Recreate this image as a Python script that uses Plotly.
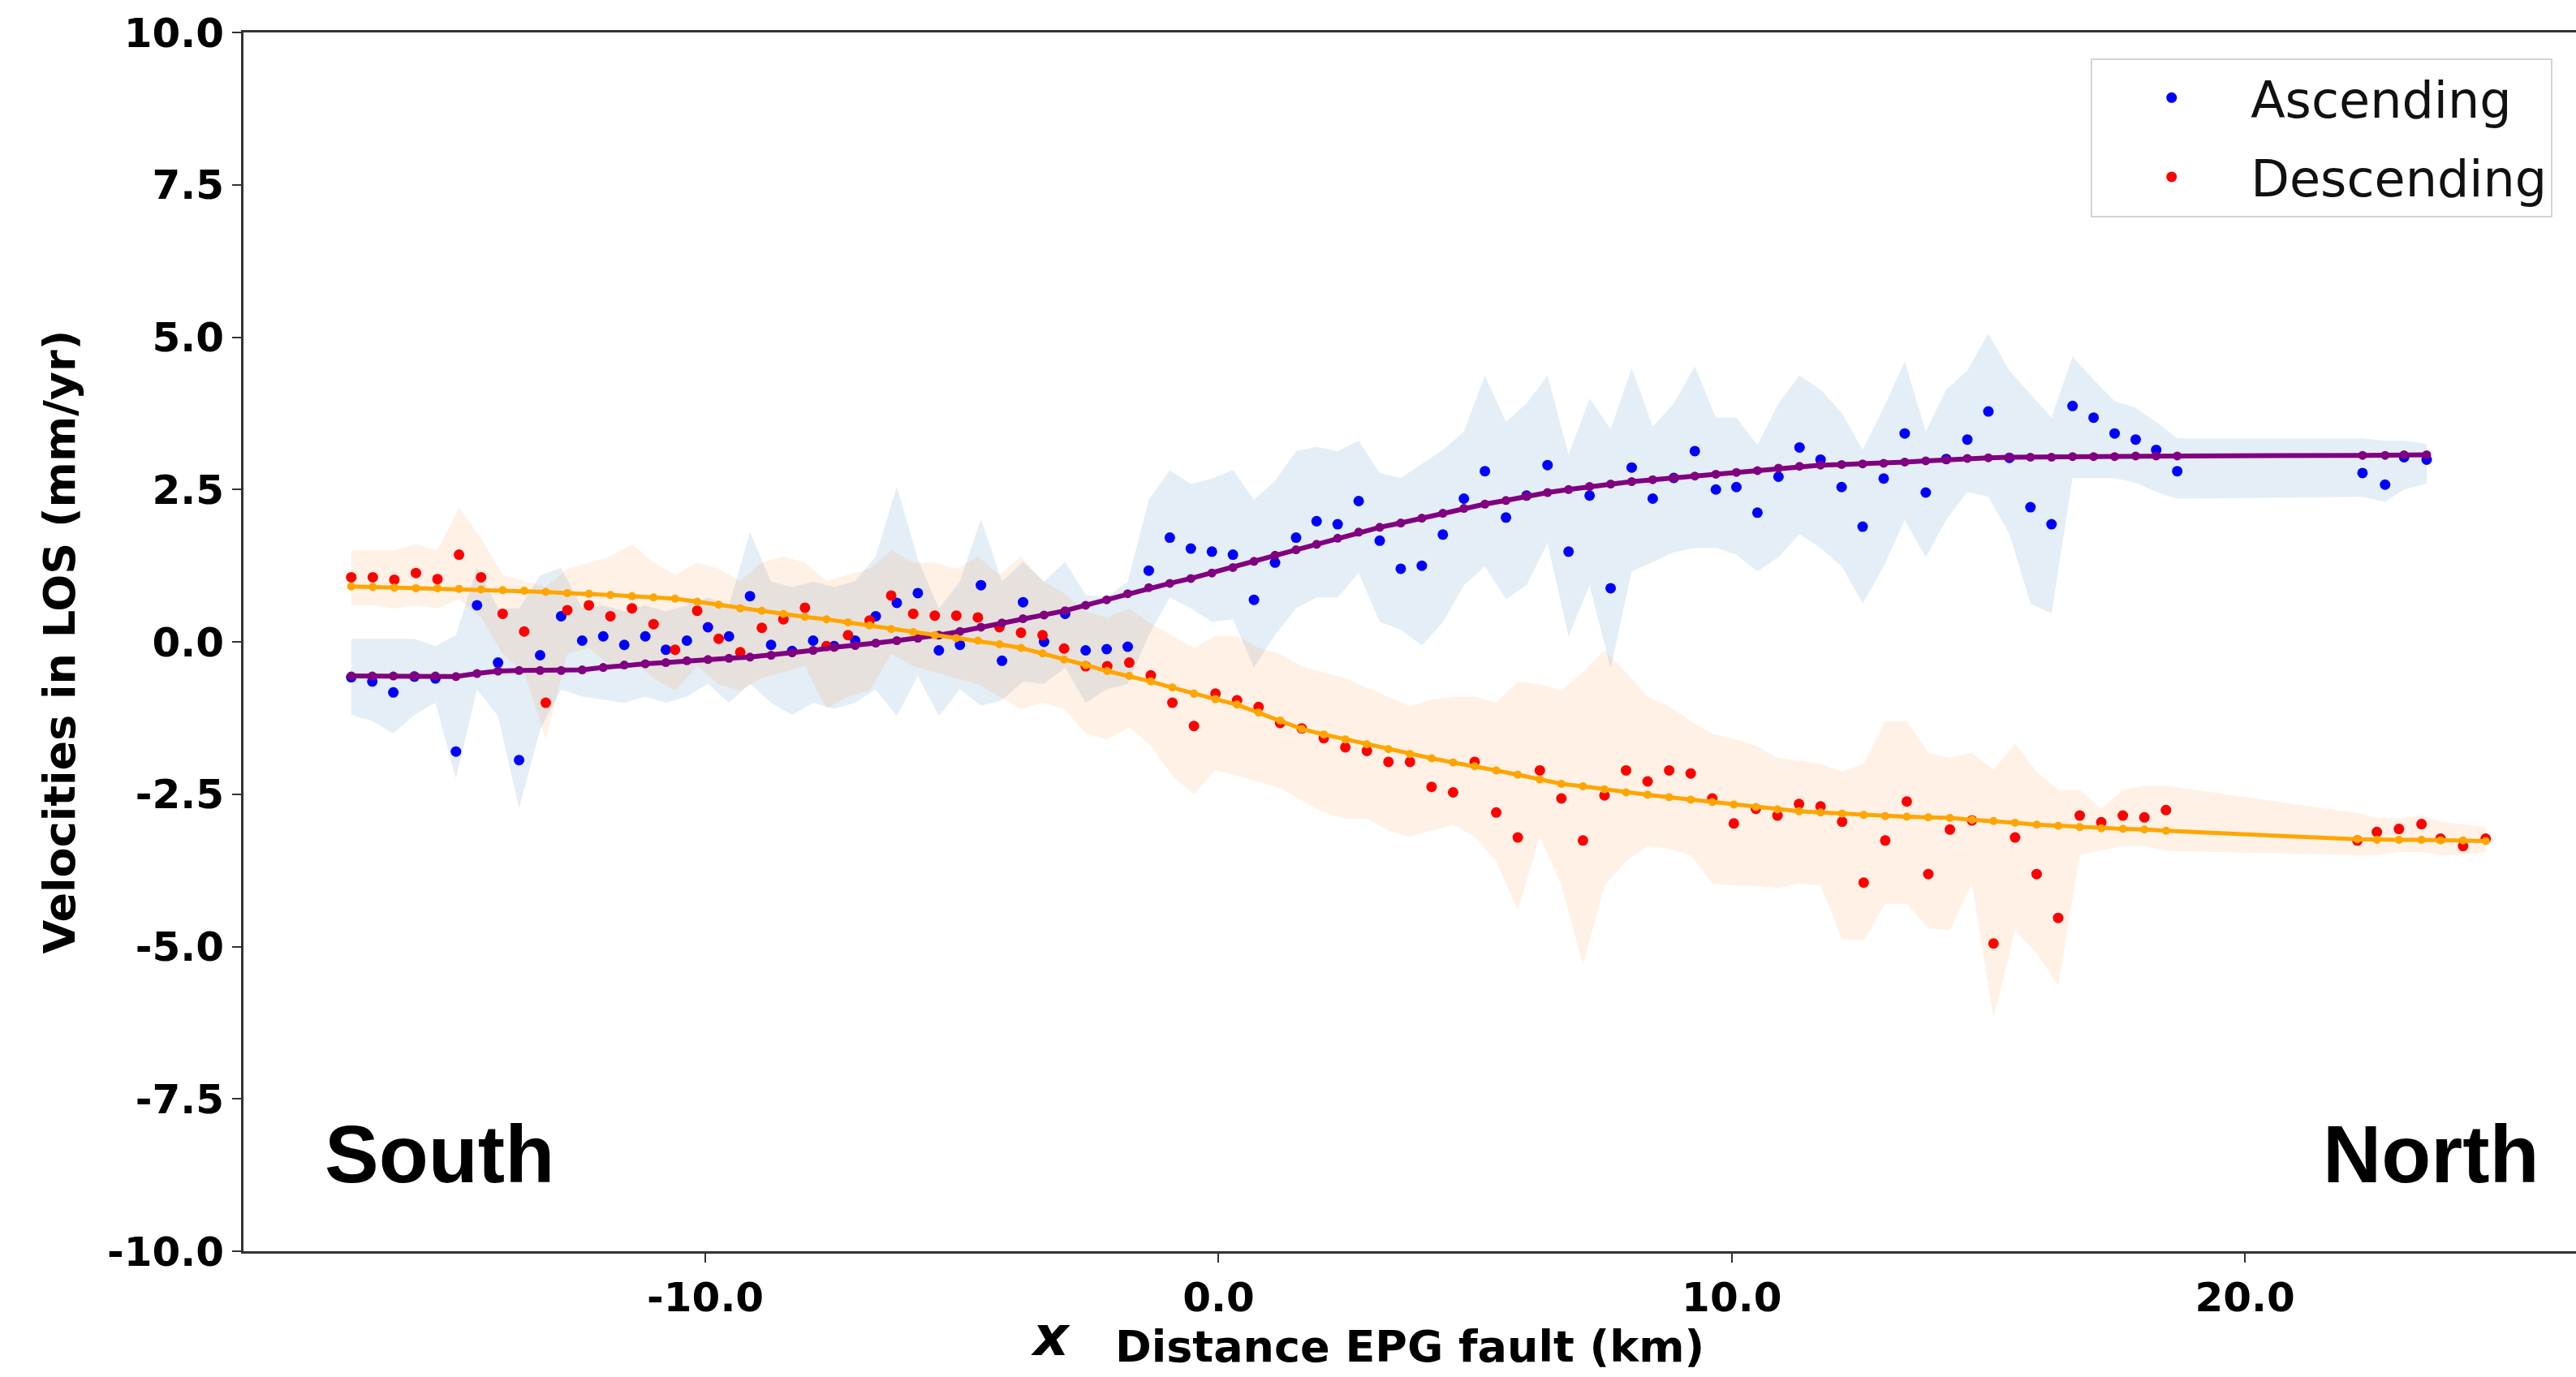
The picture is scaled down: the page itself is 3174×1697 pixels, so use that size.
import plotly.graph_objects as go

# ---------------- data ----------------
asc_x = [-16.90, -16.49, -16.08, -15.67, -15.26, -14.86, -14.45, -14.04, -13.63, -13.22,
         -12.81, -12.40, -11.99, -11.58, -11.17, -10.77, -10.36, -9.95, -9.54, -9.13,
         -8.72, -8.31, -7.90, -7.49, -7.08, -6.68, -6.27, -5.86, -5.45, -5.04,
         -4.63, -4.22, -3.81, -3.40, -2.99, -2.59, -2.18, -1.77, -1.36, -0.95,
         -0.54, -0.13, 0.28, 0.69, 1.10, 1.51, 1.91, 2.32, 2.73, 3.14,
         3.55, 3.96, 4.37, 4.78, 5.19, 5.60, 6.00, 6.41, 6.82, 7.23,
         7.64, 8.05, 8.46, 8.87, 9.28, 9.69, 10.09, 10.50, 10.91, 11.32,
         11.73, 12.14, 12.55, 12.96, 13.37, 13.78, 14.18, 14.59, 15.00, 15.41,
         15.82, 16.23, 16.64, 17.05, 17.46, 17.87, 18.27, 18.68,
         22.29, 22.73, 23.10, 23.54]
asc_v = [-0.58, -0.65, -0.83, -0.57, -0.60, -1.80, 0.60, -0.34, -1.94, -0.22,
         0.42, 0.02, 0.09, -0.05, 0.09, -0.13, 0.02, 0.24, 0.09, 0.75,
         -0.05, -0.15, 0.02, -0.07, 0.02, 0.42, 0.64, 0.80, -0.14, -0.05,
         0.93, -0.31, 0.65, 0.00, 0.46, -0.14, -0.12, -0.08, 1.17, 1.71,
         1.53, 1.48, 1.43, 0.69, 1.30, 1.71, 1.98, 1.93, 2.31, 1.66,
         1.20, 1.25, 1.76, 2.35, 2.80, 2.04, 2.40, 2.90, 1.48, 2.40,
         0.88, 2.86, 2.35, 2.69, 3.13, 2.50, 2.54, 2.12, 2.71, 3.19,
         2.99, 2.54, 1.89, 2.68, 3.42, 2.45, 3.00, 3.32, 3.78, 3.02,
         2.21, 1.93, 3.87, 3.68, 3.42, 3.32, 3.15, 2.80,
         2.77, 2.58, 3.03, 2.99]
asc_fit = [-0.56, -0.56, -0.56, -0.56, -0.56, -0.57, -0.52, -0.48, -0.47, -0.47,
           -0.47, -0.46, -0.42, -0.38, -0.36, -0.34, -0.31, -0.29, -0.27, -0.25,
           -0.22, -0.18, -0.14, -0.09, -0.06, -0.02, 0.02, 0.06, 0.11, 0.17,
           0.24, 0.31, 0.38, 0.44, 0.51, 0.60, 0.69, 0.79, 0.89, 0.96,
           1.04, 1.13, 1.22, 1.32, 1.42, 1.51, 1.60, 1.70, 1.80, 1.88,
           1.95, 2.03, 2.11, 2.19, 2.26, 2.32, 2.39, 2.45, 2.50, 2.55,
           2.59, 2.63, 2.66, 2.69, 2.72, 2.75, 2.78, 2.81, 2.85, 2.88,
           2.90, 2.91, 2.92, 2.93, 2.95, 2.97, 2.99, 3.01, 3.02, 3.03,
           3.03, 3.03, 3.04, 3.04, 3.04, 3.05, 3.05, 3.05,
           3.06, 3.06, 3.07, 3.07]
asc_lo = [-1.20, -1.30, -1.50, -1.20, -1.00, -2.24, -0.78, -1.22, -2.73, -1.44,
          -0.78, -0.90, -0.95, -1.00, -0.90, -1.00, -0.90, -0.69, -1.00, -0.69,
          -1.00, -1.20, -1.00, -1.10, -1.00, -0.78, -1.22, -0.56, -1.22, -0.78,
          -1.05, -0.96, -0.65, -0.69, -0.42, -1.00, -0.78, -0.69, 0.11, 0.73,
          0.55, 0.33, 0.37, -0.42, 0.11, 0.55, 0.73, 0.73, 1.13, 0.33,
          0.20, -0.06, 0.32, 0.93, 1.24, 0.70, 0.93, 1.62, 0.09, 0.93,
          -0.44, 1.16, 1.31, 1.47, 1.54, 1.54, 1.43, 1.16, 1.39, 1.77,
          1.54, 1.24, 0.63, 1.24, 2.00, 1.39, 2.00, 2.46, 2.38, 1.77,
          0.63, 0.47, 2.69, 2.69, 2.69, 2.61, 2.46, 2.35,
          2.38, 2.30, 2.50, 2.60]
asc_hi = [0.05, 0.05, 0.05, 0.05, -0.07, 0.11, 1.22, 0.55, 0.55, 1.09,
          1.22, 0.55, 0.60, 0.50, 0.60, 0.50, 0.60, 0.73, 0.60, 1.80,
          0.99, 0.90, 0.99, 0.90, 1.00, 1.40, 2.55, 1.35, 0.55, 0.99,
          2.02, 0.99, 1.31, 0.99, 1.31, 0.77, 0.73, 0.99, 2.33, 2.82,
          2.59, 2.68, 2.82, 2.33, 2.64, 3.13, 3.20, 3.13, 3.30, 2.77,
          2.69, 2.92, 3.15, 3.45, 4.37, 3.61, 3.91, 4.37, 3.07, 3.99,
          3.49, 4.49, 3.53, 3.91, 4.52, 3.68, 3.68, 3.23, 3.91, 4.37,
          4.14, 3.76, 3.15, 3.84, 4.60, 3.45, 4.14, 4.45, 5.06, 4.45,
          4.07, 3.68, 4.68, 4.30, 3.95, 3.84, 3.61, 3.34,
          3.34, 3.30, 3.30, 3.25]

desc_x = [-16.90, -16.48, -16.06, -15.64, -15.22, -14.80, -14.37, -13.95, -13.53, -13.11,
          -12.69, -12.27, -11.85, -11.43, -11.01, -10.59, -10.16, -9.74, -9.32, -8.90,
          -8.48, -8.06, -7.64, -7.22, -6.80, -6.38, -5.95, -5.53, -5.11, -4.69,
          -4.27, -3.85, -3.43, -3.01, -2.59, -2.17, -1.74, -1.32, -0.90, -0.48,
          -0.06, 0.36, 0.78, 1.20, 1.62, 2.05, 2.47, 2.89, 3.31, 3.73,
          4.15, 4.57, 4.99, 5.41, 5.83, 6.26, 6.68, 7.10, 7.52, 7.94,
          8.36, 8.78, 9.20, 9.62, 10.04, 10.47, 10.89, 11.31, 11.73, 12.15,
          12.57, 12.99, 13.41, 13.83, 14.25, 14.68, 15.10, 15.52, 15.94, 16.36,
          16.78, 17.20, 17.62, 18.04, 18.46,
          22.19, 22.57, 23.00, 23.44, 23.81, 24.25, 24.69]
desc_v = [1.06, 1.06, 1.02, 1.13, 1.03, 1.43, 1.06, 0.46, 0.17, -1.00,
          0.52, 0.60, 0.42, 0.55, 0.29, -0.13, 0.51, 0.05, -0.17, 0.23,
          0.37, 0.56, -0.07, 0.11, 0.35, 0.76, 0.46, 0.43, 0.43, 0.40,
          0.24, 0.15, 0.11, -0.11, -0.40, -0.40, -0.34, -0.55, -1.00, -1.38,
          -0.85, -0.96, -1.07, -1.33, -1.42, -1.58, -1.73, -1.79, -1.97, -1.97,
          -2.38, -2.47, -1.97, -2.80, -3.21, -2.11, -2.57, -3.26, -2.52, -2.11,
          -2.29, -2.11, -2.16, -2.57, -2.98, -2.74, -2.85, -2.66, -2.70, -2.95,
          -3.95, -3.26, -2.62, -3.81, -3.08, -2.93, -4.95, -3.21, -3.81, -4.53,
          -2.85, -2.96, -2.85, -2.88, -2.76,
          -3.26, -3.12, -3.07, -2.99, -3.23, -3.35, -3.23]
desc_fit = [0.91, 0.90, 0.89, 0.88, 0.88, 0.87, 0.86, 0.85, 0.84, 0.82,
            0.80, 0.79, 0.77, 0.75, 0.73, 0.71, 0.66, 0.61, 0.55, 0.51,
            0.46, 0.41, 0.37, 0.32, 0.27, 0.21, 0.16, 0.11, 0.06, 0.02,
            -0.04, -0.10, -0.19, -0.29, -0.38, -0.48, -0.56, -0.65, -0.75, -0.85,
            -0.94, -1.03, -1.16, -1.29, -1.43, -1.52, -1.60, -1.68, -1.76, -1.84,
            -1.91, -1.98, -2.04, -2.11, -2.18, -2.26, -2.33, -2.37, -2.42, -2.47,
            -2.51, -2.55, -2.59, -2.63, -2.67, -2.71, -2.75, -2.78, -2.80, -2.82,
            -2.84, -2.86, -2.87, -2.88, -2.89, -2.92, -2.94, -2.97, -3.00, -3.02,
            -3.04, -3.06, -3.07, -3.08, -3.10,
            -3.24, -3.25, -3.25, -3.25, -3.26, -3.26, -3.27]
desc_lo = [0.60, 0.60, 0.55, 0.60, 0.55, 0.70, 0.40, -0.20, -0.50, -1.60,
           -0.20, -0.10, -0.40, -0.30, -0.60, -0.80, -0.40, -0.70, -0.80, -0.60,
           -0.50, -0.40, -1.10, -0.90, -0.80, -0.20, -0.40, -0.50, -0.60, -0.70,
           -0.90, -1.10, -1.00, -1.10, -1.50, -1.60, -1.40, -1.70, -2.20, -2.50,
           -2.10, -2.20, -2.30, -2.40, -2.60, -2.80, -2.90, -2.90, -3.10, -3.20,
           -3.10, -3.00, -3.20, -3.60, -4.40, -3.20, -4.00, -5.30, -4.00, -3.60,
           -3.35, -3.40, -3.50, -3.96, -4.00, -4.00, -4.04, -3.96, -4.00, -4.88,
           -4.90, -4.30, -4.30, -4.70, -4.73, -3.96, -6.18, -4.73, -5.11, -5.64,
           -3.50, -3.43, -3.35, -3.35, -3.43,
           -3.50, -3.50, -3.45, -3.45, -3.50, -3.50, -3.45]
desc_hi = [1.50, 1.50, 1.50, 1.60, 1.50, 2.20, 1.70, 1.10, 1.00, 0.90,
           1.20, 1.30, 1.40, 1.60, 1.30, 1.10, 1.30, 1.20, 1.00, 1.30,
           1.40, 1.30, 1.00, 1.10, 1.20, 1.50, 1.30, 1.30, 1.20, 1.40,
           1.10, 1.40, 1.00, 0.80, 0.50, 0.40, 0.55, 0.30, 0.10, -0.10,
           0.10, 0.10, -0.10, -0.20, -0.40, -0.50, -0.60, -0.75, -0.90, -1.06,
           -0.95, -0.90, -0.90, -1.00, -0.65, -0.70, -0.80, -0.50, -0.14, -0.50,
           -0.90, -1.06, -1.30, -1.51, -1.59, -1.70, -1.90, -1.95, -2.00, -2.13,
           -2.00, -1.30, -1.30, -1.82, -1.90, -1.82, -2.10, -1.67, -2.13, -2.43,
           -2.43, -2.74, -2.43, -2.36, -2.36,
           -2.81, -2.89, -2.90, -2.85, -2.95, -3.00, -3.04]

x_ticks = [-10, 0, 10, 20]
x_tick_labels = ["-10.0", "0.0", "10.0", "20.0"]
y_ticks = [-10, -7.5, -5, -2.5, 0, 2.5, 5, 7.5, 10]
y_tick_labels = ["-10.0", "-7.5", "-5.0", "-2.5", "0.0", "2.5", "5.0", "7.5", "10.0"]

# ---------------- figure ----------------
BLUE_BAND = "rgba(31,119,180,0.12)"
ORANGE_BAND = "rgba(255,127,14,0.11)"

fig = go.Figure()

# uncertainty bands
fig.add_trace(go.Scatter(x=asc_x, y=asc_lo, mode="lines", line=dict(width=0),
                         showlegend=False, hoverinfo="skip"))
fig.add_trace(go.Scatter(x=asc_x, y=asc_hi, mode="lines", line=dict(width=0),
                         fill="tonexty", fillcolor=BLUE_BAND, showlegend=False, hoverinfo="skip"))
fig.add_trace(go.Scatter(x=desc_x, y=desc_lo, mode="lines", line=dict(width=0),
                         showlegend=False, hoverinfo="skip"))
fig.add_trace(go.Scatter(x=desc_x, y=desc_hi, mode="lines", line=dict(width=0),
                         fill="tonexty", fillcolor=ORANGE_BAND, showlegend=False, hoverinfo="skip"))

# observations
fig.add_trace(go.Scatter(x=asc_x, y=asc_v, mode="markers", name="Ascending",
                         legendgroup="a", marker=dict(color="#0000ff", size=13)))
fig.add_trace(go.Scatter(x=desc_x, y=desc_v, mode="markers", name="Descending",
                         legendgroup="d", marker=dict(color="#ff0000", size=13)))

# model fits
fig.add_trace(go.Scatter(x=asc_x, y=asc_fit, mode="lines+markers", showlegend=False,
                         line=dict(color="purple", width=6),
                         marker=dict(color="purple", size=11)))
fig.add_trace(go.Scatter(x=desc_x, y=desc_fit, mode="lines+markers", showlegend=False,
                         line=dict(color="orange", width=5),
                         marker=dict(color="orange", size=10)))

tick_font = dict(family="DejaVu Sans", size=50, color="black", weight="bold")
title_font = dict(family="DejaVu Sans", size=54, color="black", weight="bold")

fig.update_layout(
    width=3174, height=1697,
    margin=dict(l=300, r=0, t=40, b=155),
    paper_bgcolor="white", plot_bgcolor="white",
    showlegend=True,
    legend=dict(x=0.792, y=0.979, xanchor="left", yanchor="top",
                bgcolor="white", bordercolor="#d4d4d4", borderwidth=2,
                font=dict(family="DejaVu Sans", size=62, color="#111111"),
                itemwidth=185, tracegroupgap=14),
    xaxis=dict(range=[-19.0, 26.45], tickvals=x_ticks, ticktext=x_tick_labels,
               showgrid=False, zeroline=False, showline=True, linecolor="#333333",
               linewidth=3, mirror=True, ticks="outside", ticklen=11, tickwidth=2,
               tickcolor="#333333", tickfont=tick_font,
               title=dict(text="Distance EPG fault (km)", font=title_font, standoff=14)),
    yaxis=dict(range=[-10, 10], tickvals=y_ticks, ticktext=y_tick_labels,
               showgrid=False, zeroline=False, showline=True, linecolor="#333333",
               linewidth=3, ticks="outside", ticklen=11, tickwidth=2,
               tickcolor="#333333", tickfont=tick_font,
               title=dict(text="Velocities in LOS (mm/yr)", font=title_font, standoff=22)),
    annotations=[
        dict(x=-15.18, y=-8.4, xref="x", yref="y", text="<b>South</b>", showarrow=False,
             font=dict(family="Liberation Sans", size=100, color="black")),
        dict(x=23.63, y=-8.4, xref="x", yref="y", text="<b>North</b>", showarrow=False,
             font=dict(family="Liberation Sans", size=100, color="black")),
        dict(x=0.346, y=-0.097, xref="paper", yref="paper", text="<b><i>x</i></b>",
             showarrow=False, font=dict(family="DejaVu Sans", size=68, color="black")),
    ],
)

fig.write_html("out.html")
